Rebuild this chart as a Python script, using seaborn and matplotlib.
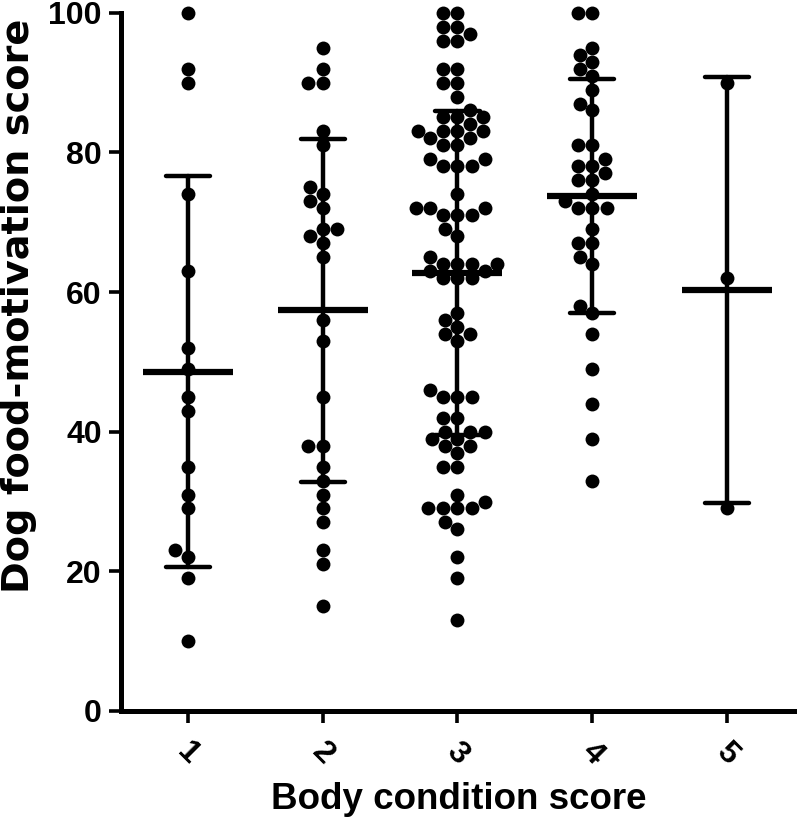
import numpy as np
import pandas as pd
import matplotlib
matplotlib.use('Agg')
import matplotlib.pyplot as plt
import seaborn as sns

black = {'axes.edgecolor': 'black', 'xtick.color': 'black', 'ytick.color': 'black',
         'text.color': 'black', 'axes.labelcolor': 'black'}
sns.set_style('ticks', rc=black)
plt.rcParams['font.family'] = ['Liberation Sans', 'DejaVu Sans']
plt.rcParams['font.weight'] = 'bold'

# motivation scores, one list per body condition score
bcs_labels = ['1', '2', '3', '4', '5']
bcs1 = [100, 92, 90, 74, 63, 52, 49, 45, 43, 35, 31, 29, 23, 22, 19, 10]
bcs2 = [95, 92, 90, 90, 83, 81, 75, 74, 73, 72, 69, 69, 68, 67, 65, 56, 53,
        45, 38, 38, 35, 33, 31, 29, 27, 23, 21, 15]
bcs3 = [100, 100, 98, 98, 97, 96, 96, 92, 92, 90, 90, 88, 86, 85, 85, 85, 84,
        83, 83, 83, 83, 82, 82, 81, 81, 79, 79, 78, 78, 78, 74, 72, 72, 72,
        71, 71, 71, 69, 68, 65, 64, 64, 64, 64, 63, 63, 62, 62, 62, 57, 56,
        55, 54, 54, 53, 46, 45, 45, 45, 42, 42, 40, 40, 40, 39, 39, 38, 38,
        37, 35, 35, 31, 30, 29, 29, 29, 29, 27, 26, 22, 19, 13]
bcs4 = [100, 100, 95, 94, 93, 92, 91, 89, 87, 86, 81, 81, 79, 78, 78, 77, 76,
        76, 74, 73, 72, 72, 72, 69, 67, 67, 65, 64, 58, 57, 54, 49, 44, 39, 33]
bcs5 = [90, 62, 29]

groups = [bcs1, bcs2, bcs3, bcs4, bcs5]
df = pd.DataFrame({
    'bcs': [lab for lab, g in zip(bcs_labels, groups) for _ in g],
    'score': [v for g in groups for v in g],
})

fig = plt.figure(figsize=(7.97, 8.27), dpi=100)
ax = fig.add_axes([0.1514, 0.1403, 0.8486, 0.8443])

sns.swarmplot(data=df, x='bcs', y='score', order=bcs_labels, color='black',
              size=10, ax=ax, clip_on=False, warn_thresh=1)

# mean with SD whiskers
sns.pointplot(data=df, x='bcs', y='score', order=bcs_labels, errorbar='sd',
              capsize=0.33, linestyle='none', marker='_', markersize=65,
              markeredgewidth=4.5, color='black', ax=ax,
              err_kws={'linewidth': 3.2}, zorder=5)

ax.set_ylim(0, 100)
ax.set_xlim(-0.5, 4.52)
ax.set_yticks([0, 20, 40, 60, 80, 100])
ax.set_xlabel('Body condition score', fontsize=26.5, fontweight='bold')
# the vertical title reads longer in the original, so it gets the wider DejaVu face
ax.set_ylabel('Dog food-motivation score', fontsize=27.5, fontweight='bold',
              family=['DejaVu Sans'])
ax.xaxis.set_label_coords(0.5, -0.14)
ax.xaxis.label.set_va('baseline')
ax.yaxis.set_label_coords(-0.124, 0.58)

sns.despine(ax=ax)
for side in ['left', 'bottom']:
    ax.spines[side].set_linewidth(3.6)
ax.tick_params(axis='both', width=2.6, length=8.5, labelsize=23)
ax.tick_params(axis='x', pad=10)
ax.tick_params(axis='y', pad=5)
for lab in ax.get_xticklabels():
    lab.set_rotation(-45)
    lab.set_ha('center')
    lab.set_fontweight('bold')
for lab in ax.get_yticklabels():
    lab.set_fontweight('bold')

fig.savefig('out.png', dpi=100)
